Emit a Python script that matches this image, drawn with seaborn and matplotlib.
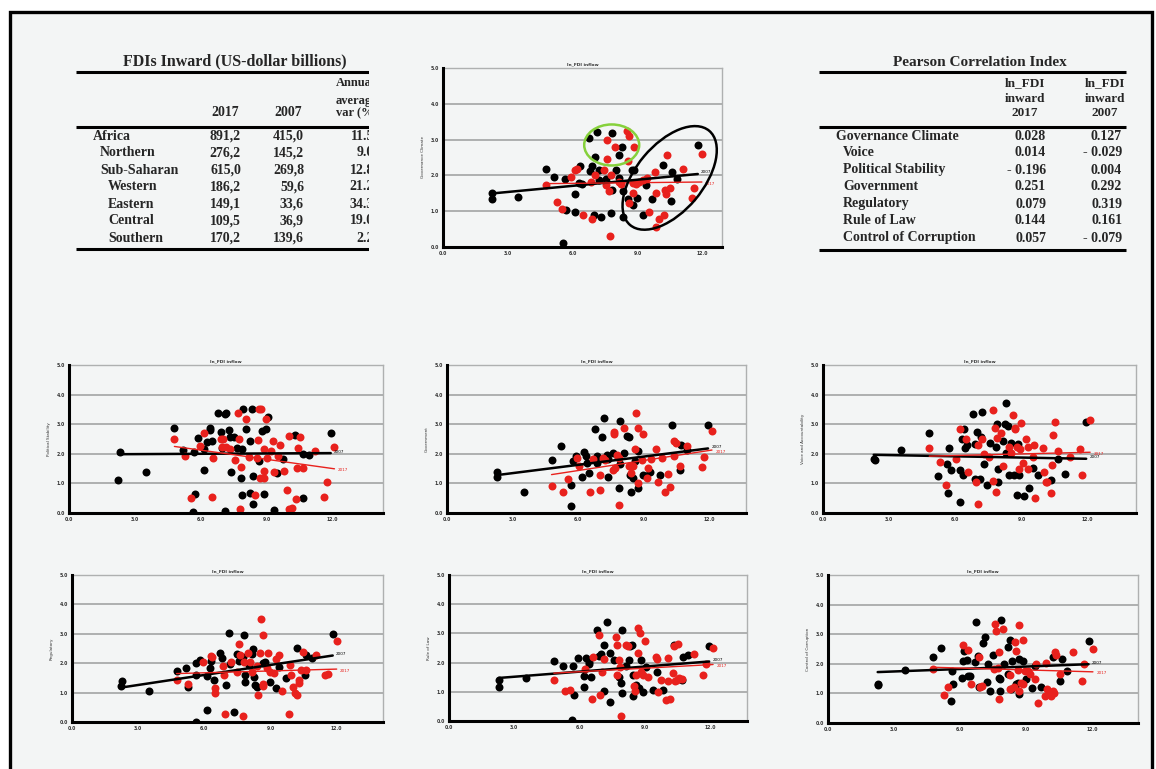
import numpy as np
import matplotlib
matplotlib.use("Agg")
import matplotlib.pyplot as plt
from matplotlib.patches import Ellipse, Rectangle
from matplotlib.transforms import ScaledTranslation
import seaborn as sns

sns.set_style("white")
plt.rcParams["font.family"] = ["DejaVu Sans"]

W, H = 1156, 769
BG = "#f3f5f5"
RED = "#e8211d"
GRID = "#aeb0b0"
SERIF = "Liberation Serif"

# ---- tables -------------------------------------------------------------
fdi_regions = ["Africa", "Northern", "Sub-Saharan", "Western", "Eastern", "Central", "Southern"]
fdi_2017 = ["891,2", "276,2", "615,0", "186,2", "149,1", "109,5", "170,2"]
fdi_2007 = ["415,0", "145,2", "269,8", "59,6", "33,6", "36,9", "139,6"]
fdi_var = ["11.5", "9.0", "12.8", "21.2", "34.3", "19.0", "2.2"]

corr_labels = ["Governance Climate", "Voice", "Political Stability", "Government",
               "Regulatory", "Rule of Law", "Control of Corruption"]
corr_2017 = ["0.028", "0.014", "- 0.196", "0.251", "0.079", "0.144", "0.057"]
corr_2007 = ["0.127", "- 0.029", "0.004", "0.292", "0.319", "0.161", "- 0.079"]

# ---- scatter data (x = ln_FDI inflow) -----------------------------------
gov_x07 = [2.26, 2.28, 3.49, 4.74, 5.15, 5.63, 5.69, 5.57, 6.09, 6.11, 6.28, 6.35, 6.43, 6.74, 6.8,
           6.89, 7.03, 7.12, 6.98, 7.23, 7.23, 7.31, 7.54, 7.82, 7.82, 7.78, 8.0, 8.15, 8.26, 8.15,
           8.31, 8.34, 8.54, 8.72, 8.85, 8.77, 8.97, 9.23, 9.38, 9.65, 10.15, 10.57, 10.54, 10.82, 11.78]
gov_y07 = [1.50, 1.33, 1.39, 2.19, 1.95, 1.90, 1.04, 0.11, 1.49, 0.99, 1.78, 2.27, 1.77, 3.04, 2.13,
           2.26, 2.51, 3.21, 0.88, 2.15, 1.86, 0.85, 1.90, 3.19, 1.59, 0.96, 2.15, 2.57, 2.80, 1.92,
           0.85, 1.56, 1.34, 2.14, 2.14, 1.18, 1.36, 0.90, 1.73, 1.34, 2.29, 2.10, 1.29, 1.90, 2.84]
gov_x17 = [4.74, 5.26, 5.51, 5.92, 6.12, 6.18, 6.46, 6.85, 6.89, 7.03, 7.46, 7.54, 7.58, 7.57, 7.66,
           7.72, 7.77, 7.97, 8.12, 8.22, 8.49, 8.58, 8.54, 8.85, 8.77, 8.92, 8.77, 8.58, 9.08, 9.23,
           9.45, 9.54, 9.82, 9.85, 9.85, 10.0, 10.2, 10.28, 10.31, 10.38, 10.49, 11.08, 11.62, 11.5, 11.97]
gov_y17 = [1.73, 1.27, 1.06, 1.95, 2.15, 2.19, 0.90, 1.82, 0.79, 2.02, 2.15, 1.73, 3.0, 2.45, 1.56,
           0.32, 2.02, 2.80, 1.82, 1.75, 3.23, 3.09, 2.40, 2.78, 1.78, 1.75, 1.5, 1.22, 1.81, 1.87,
           1.94, 0.97, 2.10, 1.50, 0.55, 0.79, 0.90, 1.59, 1.47, 2.56, 1.64, 2.18, 1.64, 1.36, 2.61]

pol_x07 = [2.3, 2.25, 3.52, 4.8, 5.2, 5.71, 5.72, 5.65, 5.88, 6.17, 6.17, 6.29, 6.4, 6.4, 6.52,
           6.77, 6.93, 6.97, 7.09, 7.17, 7.09, 7.27, 7.35, 7.4, 7.5, 7.63, 7.84, 7.88, 7.9, 7.93,
           8.08, 8.24, 8.26, 8.35, 8.38, 8.38, 8.64, 8.8, 8.87, 8.95, 9.06, 9.33, 9.48, 9.74, 10.29,
           10.67, 10.67, 10.93, 11.92]
pol_y07 = [2.05, 1.11, 1.40, 2.88, 2.14, 2.05, 0.63, 0.02, 2.53, 1.45, 2.16, 2.39, 2.82, 2.88, 2.43,
           3.39, 2.73, 2.19, 3.33, 3.39, 0.06, 2.8, 2.57, 1.4, 2.57, 2.19, 1.17, 2.16, 0.6, 3.52,
           2.84, 2.42, 0.68, 3.5, 1.25, 0.3, 1.74, 2.76, 0.63, 2.85, 3.25, 0.09, 1.34, 1.82, 2.65,
           2.0, 0.49, 1.97, 2.71]
pol_x17 = [4.8, 5.3, 5.57, 5.98, 6.17, 6.52, 6.56, 6.93, 6.97, 7.17, 7.0, 7.35, 7.58, 7.69, 7.73,
           7.81, 7.84, 8.08, 8.2, 8.47, 8.55, 8.61, 8.66, 8.74, 8.71, 8.87, 8.9, 8.9, 8.98, 9.03,
           9.2, 9.28, 9.32, 9.5, 9.62, 9.77, 9.95, 10.03, 10.03, 10.14, 10.32, 10.4, 10.43, 10.52, 10.67,
           11.19, 11.61, 11.73, 12.09]
pol_y17 = [2.51, 1.91, 0.52, 2.27, 2.7, 0.55, 1.85, 2.51, 2.23, 2.23, 2.5, 2.16, 1.8, 3.39, 2.51,
           0.15, 1.57, 3.16, 1.89, 0.6, 1.85, 2.45, 3.5, 3.5, 1.17, 2.16, 1.43, 1.17, 3.16, 1.85,
           2.08, 2.42, 1.4, 1.93, 2.31, 1.43, 0.77, 2.59, 0.15, 0.17, 0.47, 1.51, 2.19, 2.57, 1.51,
           2.08, 0.55, 1.06, 2.23]

gove_x07 = [2.27, 2.27, 3.54, 4.79, 5.21, 5.67, 5.67, 5.76, 5.91, 6.17, 6.28, 6.37, 6.4, 6.51, 6.78,
            6.85, 6.85, 7.1, 7.2, 7.32, 7.39, 7.39, 7.6, 7.84, 7.9, 7.93, 7.93, 8.11, 8.27, 8.36,
            8.39, 8.42, 8.51, 8.62, 8.77, 8.77, 8.97, 9.13, 9.31, 9.74, 10.31, 10.69, 10.72, 11.0, 11.96]
gove_y07 = [1.2, 1.4, 0.72, 1.8, 2.28, 0.94, 0.24, 1.74, 1.93, 1.23, 2.05, 1.93, 1.7, 1.34, 2.84,
            1.91, 1.7, 2.57, 3.22, 1.97, 1.23, 1.82, 2.02, 1.89, 0.86, 3.1, 1.66, 2.02, 2.61, 2.57,
            1.28, 0.72, 1.17, 1.77, 0.83, 2.08, 1.28, 1.25, 1.4, 1.28, 2.97, 1.45, 2.31, 2.14, 2.97]
gove_x17 = [4.79, 5.33, 5.56, 5.97, 6.06, 6.55, 6.71, 7.01, 7.01, 7.14, 7.24, 7.67, 7.67, 7.6, 7.7,
            7.78, 7.86, 7.9, 8.09, 8.32, 8.42, 8.51, 8.62, 8.67, 8.73, 8.77, 8.93, 9.0, 9.16, 9.23,
            9.34, 9.59, 9.69, 9.85, 10.0, 10.11, 10.2, 10.38, 10.41, 10.51, 10.69, 11.0, 11.68, 11.76, 12.14]
gove_y17 = [0.91, 0.72, 1.16, 1.85, 1.59, 0.72, 1.82, 0.77, 1.28, 1.85, 1.8, 2.73, 2.68, 1.45, 1.51,
            1.97, 0.26, 1.85, 2.88, 1.59, 1.36, 1.59, 2.16, 3.39, 1.02, 2.88, 1.8, 2.68, 1.17, 1.53,
            1.82, 2.16, 1.06, 1.85, 0.72, 1.32, 0.89, 1.91, 2.42, 2.36, 1.59, 2.25, 1.55, 1.89, 2.78]

voice_x07 = [2.3, 2.35, 3.56, 4.82, 5.23, 5.61, 5.65, 5.73, 5.79, 6.21, 6.21, 6.29, 6.36, 6.41, 6.44,
             6.52, 6.79, 6.89, 6.89, 6.97, 7.12, 7.15, 7.23, 7.32, 7.42, 7.58, 7.85, 7.91, 7.95, 7.95,
             8.15, 8.29, 8.3, 8.26, 8.41, 8.45, 8.52, 8.67, 8.82, 8.86, 8.91, 9.12, 9.36, 9.52, 9.77,
             10.33, 10.68, 10.98, 11.94]
voice_y07 = [1.82, 1.78, 2.13, 2.69, 1.24, 1.64, 0.66, 2.18, 1.45, 0.36, 1.44, 2.49, 1.30, 2.85, 2.18,
             2.29, 3.36, 2.33, 1.15, 2.74, 1.15, 2.58, 3.4, 1.64, 0.93, 2.36, 2.24, 3.0, 1.47, 1.04,
             2.44, 2.02, 3.73, 3.0, 2.94, 1.30, 2.38, 1.30, 0.62, 2.32, 1.30, 0.57, 0.85, 1.53, 1.30,
             1.13, 1.81, 1.33, 3.09]
voice_x17 = [4.82, 5.33, 5.58, 6.03, 6.21, 6.48, 6.56, 6.94, 7.02, 7.02, 7.2, 7.3, 7.55, 7.7, 7.73,
             7.8, 7.85, 7.91, 8.08, 8.15, 8.45, 8.52, 8.64, 8.71, 8.71, 8.82, 8.91, 8.94, 8.97, 9.06,
             9.21, 9.32, 9.32, 9.52, 9.62, 9.59, 10.0, 10.03, 10.12, 10.15, 10.33, 10.38, 10.45, 10.53, 10.68,
             11.21, 11.64, 11.74, 12.12]
voice_y17 = [2.21, 1.72, 0.93, 1.84, 2.83, 2.51, 1.39, 1.04, 0.32, 2.29, 2.49, 1.98, 1.9, 3.48, 1.07,
             2.88, 0.7, 2.54, 2.69, 1.58, 2.24, 2.04, 3.3, 2.83, 2.88, 2.24, 1.47, 2.17, 3.05, 1.70,
             2.49, 2.24, 1.47, 1.9, 0.51, 2.29, 2.21, 1.38, 1.04, 1.04, 0.68, 1.61, 2.65, 3.09, 2.1,
             1.9, 2.17, 1.27, 3.14]

reg_x07 = [2.24, 2.28, 3.48, 4.74, 5.16, 5.26, 5.61, 5.64, 5.64, 5.82, 6.1, 6.1, 6.25, 6.32, 6.44,
           6.7, 6.82, 7.0, 7.12, 7.18, 7.34, 7.49, 7.58, 7.76, 7.81, 7.84, 7.84, 8.03, 8.18, 8.22,
           8.26, 8.29, 8.37, 8.67, 8.74, 8.97, 9.24, 9.39, 9.7, 10.18, 10.56, 10.6, 10.86, 11.82]
reg_y07 = [1.22, 1.4, 1.05, 1.74, 1.85, 1.19, 1.59, 0.0, 1.99, 2.10, 0.40, 1.56, 1.82, 2.07, 1.42,
           2.33, 2.16, 1.25, 3.03, 1.97, 0.34, 2.31, 2.07, 2.22, 2.97, 1.59, 1.36, 1.93, 2.31, 2.47,
           1.53, 1.25, 1.19, 1.99, 2.05, 1.36, 1.17, 1.88, 1.48, 2.53, 1.59, 2.27, 2.19, 2.99]
reg_x17 = [4.74, 5.26, 5.92, 6.47, 6.32, 6.35, 6.47, 6.85, 6.93, 6.9, 7.23, 7.46, 7.58, 7.61, 7.76,
           7.79, 7.99, 8.06, 8.18, 8.37, 8.44, 8.52, 8.56, 8.64, 8.64, 8.67, 8.85, 8.9, 8.97, 9.15,
           9.24, 9.39, 9.5, 9.85, 9.88, 9.95, 10.0, 10.1, 10.18, 10.3, 10.3, 10.36, 10.48, 10.6, 11.06,
           11.47, 11.62, 12.0]
reg_y17 = [1.44, 1.28, 2.05, 0.99, 2.24, 2.22, 1.14, 1.9, 0.28, 1.59, 2.05, 1.7, 2.65, 2.27, 0.19,
           2.05, 2.33, 2.05, 1.7, 1.9, 0.91, 2.36, 3.49, 2.95, 1.28, 1.22, 1.82, 2.33, 1.7, 1.67,
           2.13, 2.27, 1.05, 0.28, 1.93, 1.59, 1.19, 0.99, 0.91, 1.42, 1.31, 1.76, 2.39, 1.76, 2.27,
           1.59, 1.62, 2.76]

law_x07 = [2.29, 2.32, 3.55, 4.85, 5.26, 5.72, 5.76, 5.66, 5.92, 6.19, 6.22, 6.3, 6.45, 6.45, 6.53,
           6.79, 6.88, 6.99, 7.11, 7.14, 7.25, 7.4, 7.4, 7.6, 7.83, 7.91, 7.95, 7.95, 8.13, 8.29,
           8.32, 8.41, 8.44, 8.44, 8.59, 8.75, 8.83, 8.93, 9.05, 9.4, 9.54, 9.82, 10.35, 10.73, 10.76,
           11.01, 11.96]
law_y07 = [1.40, 1.15, 1.46, 2.07, 1.88, 1.88, 0.89, 0.03, 2.17, 1.18, 1.54, 2.17, 2.03, 1.95, 1.50,
           3.1, 2.23, 2.29, 1.04, 2.60, 3.39, 2.34, 0.66, 2.09, 1.50, 1.29, 0.95, 3.12, 1.88, 2.09,
           2.57, 2.60, 1.58, 0.86, 1.23, 1.12, 2.09, 1.0, 1.86, 1.07, 1.69, 1.07, 2.60, 1.40, 2.18,
           2.26, 2.57]
law_x17 = [4.82, 5.34, 5.57, 6.25, 6.57, 6.61, 6.91, 6.94, 7.03, 7.14, 7.68, 7.72, 7.72, 7.83, 7.91,
           7.86, 8.13, 8.21, 8.52, 8.56, 8.59, 8.67, 8.67, 8.78, 8.83, 8.93, 9.02, 9.17, 9.5, 9.57,
           9.63, 9.74, 9.97, 10.05, 10.09, 10.15, 10.31, 10.35, 10.41, 10.46, 10.55, 10.58, 10.73, 11.27, 11.68,
           11.8, 12.14]
law_y17 = [1.40, 1.04, 1.06, 1.77, 0.74, 2.2, 2.95, 0.89, 1.69, 2.11, 2.89, 2.6, 1.58, 2.09, 0.17,
           1.86, 2.6, 2.57, 1.2, 1.04, 1.58, 3.17, 2.34, 3.0, 1.69, 1.58, 2.75, 1.50, 2.2, 2.11,
           1.0, 1.40, 0.72, 2.15, 1.38, 0.75, 1.63, 2.57, 1.38, 1.4, 2.63, 1.46, 1.43, 2.29, 1.58,
           1.95, 2.49]

cor_x07 = [2.26, 2.29, 3.48, 4.76, 5.15, 5.59, 5.68, 5.64, 6.09, 6.14, 6.2, 6.32, 6.35, 6.47, 6.67,
           6.73, 6.82, 6.89, 7.05, 7.15, 7.23, 7.3, 7.35, 7.5, 7.76, 7.83, 7.83, 7.86, 8.02, 8.17,
           8.18, 8.29, 8.32, 8.36, 8.56, 8.62, 8.71, 8.71, 8.89, 9.02, 9.27, 9.42, 9.68, 10.23, 10.56,
           10.64, 10.89, 11.85]
cor_y07 = [1.33, 1.28, 1.78, 2.23, 2.53, 0.74, 1.31, 1.76, 1.51, 2.09, 2.44, 2.13, 1.59, 1.59, 2.06,
           3.41, 2.27, 1.22, 2.69, 2.92, 1.40, 2.0, 1.09, 2.3, 1.53, 1.48, 1.09, 3.49, 1.98, 1.65,
           2.56, 2.81, 1.14, 2.09, 1.31, 1.36, 2.17, 0.97, 2.11, 1.48, 1.17, 1.91, 1.22, 2.24, 1.42,
           2.16, 1.74, 2.76]
cor_x17 = [4.76, 5.29, 5.45, 6.14, 6.39, 6.5, 6.89, 6.92, 7.0, 7.53, 7.61, 7.64, 7.71, 7.79, 7.8,
           7.98, 8.26, 8.29, 8.44, 8.52, 8.56, 8.62, 8.67, 8.71, 8.77, 8.86, 8.89, 8.97, 9.08, 9.17,
           9.42, 9.47, 9.53, 9.88, 9.92, 9.95, 10.03, 10.14, 10.23, 10.29, 10.33, 10.38, 10.56, 11.14, 11.55,
           11.65, 12.05]
cor_y17 = [1.82, 0.95, 1.22, 2.64, 2.47, 1.31, 2.23, 1.22, 1.25, 1.82, 3.35, 3.12, 1.87, 2.41, 0.8,
           3.18, 1.62, 1.14, 1.22, 2.72, 2.44, 1.78, 3.3, 1.09, 1.36, 1.33, 2.81, 1.76, 1.76, 1.67,
           1.48, 1.98, 0.68, 0.91, 2.02, 1.14, 1.06, 0.91, 1.09, 1.02, 2.39, 2.31, 1.65, 2.39, 1.42,
           2.0, 2.5]

x_ticks = [0, 3, 6, 9, 12]
x_ticklabels = ["0.0", "3.0", "6.0", "9.0", "12.0"]
y_ticks = [0, 1, 2, 3, 4, 5]
y_ticklabels = ["0.0", "1.0", "2.0", "3.0", "4.0", "5.0"]


def px_rect(l, t, r, b):
    return [l / W, 1 - b / H, (r - l) / W, (b - t) / H]


def scatter_panel(ax, x07, y07, x17, y17, ylabel, xmax):
    ax.set_facecolor(BG)
    sns.scatterplot(x=x07, y=y07, color="black", s=33, linewidth=0, ax=ax, zorder=3)
    sns.scatterplot(x=x17, y=y17, color=RED, s=33, linewidth=0, ax=ax, zorder=3)
    sns.regplot(x=x07, y=y07, scatter=False, ci=None, color="black",
                line_kws=dict(lw=1.8, zorder=4), ax=ax)
    sns.regplot(x=x17, y=y17, scatter=False, ci=None, color=RED,
                line_kws=dict(lw=1.0, zorder=4), ax=ax)
    for xs, ys, c, lab, dy in [(x07, y07, "black", "2007", 0.05), (x17, y17, RED, "2017", -0.05)]:
        k, b0 = np.polyfit(xs, ys, 1)
        xe = max(xs)
        ax.text(xe + 0.15, k * xe + b0 + dy, lab, color=c, fontsize=3.0,
                va="center", ha="left", zorder=5)
    ax.set_xlim(0, xmax)
    ax.set_ylim(0, 5)
    ax.set_xticks(x_ticks)
    ax.set_xticklabels(x_ticklabels)
    ax.set_yticks(y_ticks)
    ax.set_yticklabels(y_ticklabels)
    ax.grid(axis="y", color=GRID, lw=1.4)
    ax.grid(axis="x", visible=False)
    ax.set_axisbelow(True)
    for side in ["left", "bottom"]:
        ax.spines[side].set_color("black")
        ax.spines[side].set_linewidth(2.2)
        ax.spines[side].set_zorder(6)
    for side in ["top", "right"]:
        ax.spines[side].set_color(GRID)
        ax.spines[side].set_linewidth(1.0)
    ax.tick_params(labelsize=3.3, length=0, pad=3)
    for t in ax.get_xticklabels() + ax.get_yticklabels():
        t.set_fontweight("bold")
        t.set_color("#333333")
    ax.set_title("ln_FDI inflow", fontsize=3.2, fontweight="bold", pad=2, color="#333333")
    ax.set_xlabel("")
    ax.set_ylabel(ylabel, fontsize=3.0, labelpad=4, color="#333333")


fig = plt.figure(figsize=(W / 100, H / 100), dpi=100, facecolor="white")
fig.add_artist(Rectangle((10 / W, -0.02), (1152 - 10) / W, (H - 12) / H + 0.02,
                         transform=fig.transFigure, facecolor=BG, edgecolor="black",
                         lw=2.4, zorder=-1))

# ---- scatter panels ------------------------------------------------------
ax_top = fig.add_axes(px_rect(443, 68, 722, 247))
scatter_panel(ax_top, gov_x07, gov_y07, gov_x17, gov_y17, "Governance Climate", 12.9)
e1 = Ellipse((0, 0), width=0.55, height=0.41, angle=0, fill=False, edgecolor="#86d13c", lw=1.8,
             transform=fig.dpi_scale_trans + ScaledTranslation(7.8, 2.85, ax_top.transData), zorder=5)
e2 = Ellipse((0, 0), width=1.23, height=0.67, angle=50, fill=False, edgecolor="black", lw=1.8,
             transform=fig.dpi_scale_trans + ScaledTranslation(10.48, 1.93, ax_top.transData), zorder=5)
ax_top.add_patch(e1)
ax_top.add_patch(e2)
ax_top.set_xlim(0, 12.9)
ax_top.set_ylim(0, 5)

panels = [
    (px_rect(69, 365, 383, 513), pol_x07, pol_y07, pol_x17, pol_y17, "Political Stability", 14.3),
    (px_rect(447, 365, 746, 513), gove_x07, gove_y07, gove_x17, gove_y17, "Government", 13.7),
    (px_rect(823, 365, 1136, 513), voice_x07, voice_y07, voice_x17, voice_y17, "Voice and Accountability", 14.2),
    (px_rect(72, 575, 383, 722), reg_x07, reg_y07, reg_x17, reg_y17, "Regulatory", 14.1),
    (px_rect(449, 575, 747, 721), law_x07, law_y07, law_x17, law_y17, "Rule of Law", 13.7),
    (px_rect(828, 575, 1138, 723), cor_x07, cor_y07, cor_x17, cor_y17, "Control of Corruption", 14.1),
]
for rect, x07, y07, x17, y17, lab, xmax in panels:
    ax = fig.add_axes(rect)
    scatter_panel(ax, x07, y07, x17, y17, lab, xmax)

# ---- left table ----------------------------------------------------------
tl = fig.add_axes(px_rect(60, 40, 369, 262))
tl.set_xlim(60, 369)
tl.set_ylim(262, 40)
tl.axis("off")
tkw = dict(family=SERIF, fontweight="bold", clip_on=True, va="center")
tl.text(235, 61, "FDIs Inward (US-dollar billions)", ha="center", fontsize=11.5, **tkw)
for yy in [72, 127, 249]:
    tl.plot([76, 369], [yy, yy], color="black", lw=2.2, clip_on=True, solid_capstyle="butt")
tl.text(225, 113, "2017", ha="center", fontsize=10, **tkw)
tl.text(288, 113, "2007", ha="center", fontsize=10, **tkw)
for yy, s in zip([83, 101, 113], ["Annual", "average", "var (%)"]):
    tl.text(336, yy, s, ha="left", fontsize=9, **tkw)
row_y = [136, 153, 170, 187, 204, 221, 238]
indent = [93, 100, 100, 108, 108, 108, 108]
for i, yy in enumerate(row_y):
    tl.text(indent[i], yy, fdi_regions[i], ha="left", fontsize=10, **tkw)
    tl.text(241, yy, fdi_2017[i], ha="right", fontsize=10, **tkw)
    tl.text(304, yy, fdi_2007[i], ha="right", fontsize=10, **tkw)
    tl.text(374, yy, fdi_var[i], ha="right", fontsize=10, **tkw)

# ---- right table ---------------------------------------------------------
tr = fig.add_axes(px_rect(810, 40, 1145, 262))
tr.set_xlim(810, 1145)
tr.set_ylim(262, 40)
tr.axis("off")
tr.text(980, 62, "Pearson Correlation Index", ha="center", fontsize=11, **tkw)
for yy in [72, 127, 250]:
    tr.plot([819, 1126], [yy, yy], color="black", lw=2.2, solid_capstyle="butt")
for cx, yr in [(1025, "2017"), (1105, "2007")]:
    for yy, s in zip([83, 99, 113], ["ln_FDI", "inward", yr]):
        tr.text(cx, yy, s, ha="center", fontsize=9.5, **tkw)
for i, yy in enumerate(row_y):
    tr.text(836 if i == 0 else 843, yy, corr_labels[i], ha="left", fontsize=10, **tkw)
    tr.text(1046, yy, corr_2017[i], ha="right", fontsize=10, **tkw)
    tr.text(1122, yy, corr_2007[i], ha="right", fontsize=10, **tkw)

fig.savefig("out.png", dpi=100, facecolor=fig.get_facecolor())
